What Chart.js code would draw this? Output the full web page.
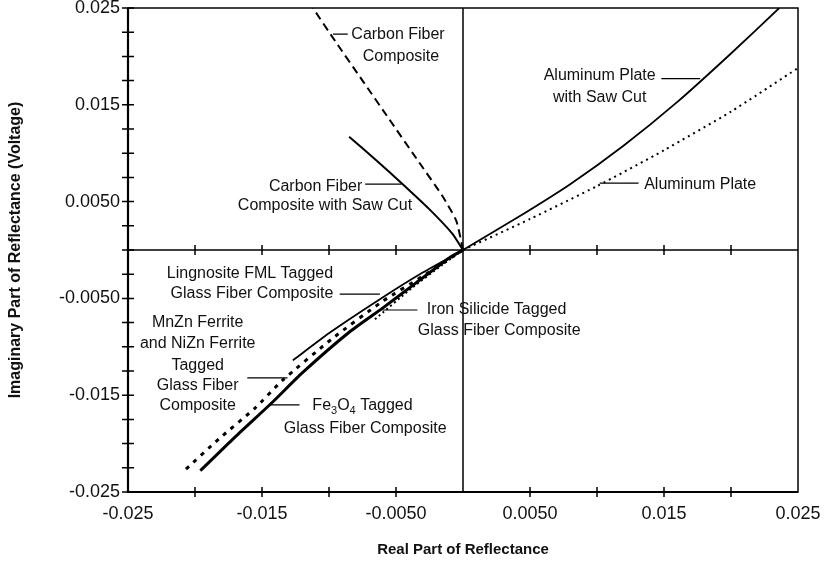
<!DOCTYPE html>
<html>
<head>
<meta charset="utf-8">
<script src="https://cdn.jsdelivr.net/npm/chart.js@4"></script>
<style>
  html, body { margin: 0; padding: 0; background: #fff; }
  #wrap { width: 833px; height: 569px; }
</style>
</head>
<body>
<div id="wrap"><canvas id="reflChart" width="833" height="569"></canvas></div>
<script>
// tick labels
const xLabelValues = [-0.025, -0.015, -0.005, 0.005, 0.015, 0.025]
const xLabelText = ['-0.025', '-0.015', '-0.0050', '0.0050', '0.015', '0.025']
const yLabelValues = [0.025, 0.015, 0.005, -0.005, -0.015, -0.025]
const yLabelText = ['0.025', '0.015', '0.0050', '-0.0050', '-0.015', '-0.025']

// series (real part, imaginary part)
const carbonX = [0, -0.0005, -0.0015, -0.0035, -0.0055, -0.0075, -0.0095, -0.0112]
const carbonY = [0, 0.0030, 0.0055, 0.0095, 0.0135, 0.0175, 0.0215, 0.0250]
const carbonSawX = [0, -0.0008, -0.0025, -0.0045, -0.0065, -0.0085]
const carbonSawY = [0, 0.0017, 0.0042, 0.0068, 0.0093, 0.0117]
const alSawX = [0, 0.0040, 0.0080, 0.0120, 0.0160, 0.0200, 0.0236]
const alSawY = [0, 0.0033, 0.0068, 0.0108, 0.0153, 0.0203, 0.0250]
const alX = [0, 0.0050, 0.0100, 0.0150, 0.0200, 0.0250]
const alY = [0, 0.0032, 0.0066, 0.0103, 0.0143, 0.0188]
const fe3o4X = [0, -0.0010, -0.0036, -0.0060, -0.0085, -0.0120, -0.0142, -0.0170, -0.0196]
const fe3o4Y = [0, -0.0008, -0.0035, -0.0060, -0.0085, -0.0127, -0.0157, -0.0193, -0.0228]
const ferriteX = [0, -0.0030, -0.0060, -0.0098, -0.0135, -0.0155, -0.0182, -0.0208]
const ferriteY = [0, -0.0027, -0.0053, -0.0092, -0.0135, -0.0163, -0.0195, -0.0228]
const lingX = [0, -0.0031, -0.0060, -0.0098, -0.0127]
const lingY = [0, -0.0024, -0.0049, -0.0084, -0.0114]
const ironX = [0, -0.0016, -0.0038, -0.0066]
const ironY = [0, -0.0016, -0.0039, -0.0072]

const pts = (xs, ys) => xs.map((x, i) => ({ x: x, y: ys[i] }))

const labelFor = (values, texts, v) => {
  const i = values.findIndex((t) => Math.abs(t - v) < 1e-9)
  return i < 0 ? '' : texts[i]
}

// callout texts, placed in data units; "_" marks a one-char subscript
const notes = [
  { text: 'Carbon Fiber', x: -0.00485, y: 0.0223 },
  { text: 'Composite', x: -0.00463, y: 0.0200 },
  { text: 'Carbon Fiber', x: -0.0110, y: 0.0066 },
  { text: 'Composite with Saw Cut', x: -0.0103, y: 0.00455 },
  { text: 'Aluminum Plate', x: 0.0102, y: 0.0180 },
  { text: 'with Saw Cut', x: 0.0102, y: 0.0157 },
  { text: 'Aluminum Plate', x: 0.0177, y: 0.0068 },
  { text: 'Lingnosite FML Tagged', x: -0.0159, y: -0.0024 },
  { text: 'Glass Fiber Composite', x: -0.01575, y: -0.00455 },
  { text: 'Iron Silicide Tagged', x: 0.0025, y: -0.0062 },
  { text: 'Glass Fiber Composite', x: 0.0027, y: -0.0083 },
  { text: 'MnZn Ferrite', x: -0.0198, y: -0.0075 },
  { text: 'and NiZn Ferrite', x: -0.0198, y: -0.0097 },
  { text: 'Tagged', x: -0.0198, y: -0.0119 },
  { text: 'Glass Fiber', x: -0.0198, y: -0.0140 },
  { text: 'Composite', x: -0.0198, y: -0.0161 },
  { text: 'Fe_3O_4 Tagged', x: -0.0075, y: -0.0161 },
  { text: 'Glass Fiber Composite', x: -0.0073, y: -0.0184 },
]
// leader lines: x1, x2, y
const leaders = [
  [-0.0097, -0.0086, 0.0223],
  [-0.0073, -0.0046, 0.0068],
  [0.0148, 0.0177, 0.0177],
  [0.0102, 0.0131, 0.0069],
  [-0.0092, -0.0062, -0.00455],
  [-0.0060, -0.0034, -0.0062],
  [-0.0161, -0.0131, -0.0132],
  [-0.0144, -0.0122, -0.0160],
]

const FONT = "'Liberation Sans', Arial, sans-serif"

const drawRich = (ctx, str, cx, cy, size) => {
  const parts = []
  let i = 0
  while (i < str.length) {
    if (str[i] === '_') {
      parts.push({ t: str[i + 1], sub: true })
      i += 2
    } else {
      let j = i
      while (j < str.length && str[j] !== '_') j++
      parts.push({ t: str.slice(i, j), sub: false })
      i = j
    }
  }
  const subSize = Math.round(size * 0.7)
  let total = 0
  parts.forEach((p) => {
    ctx.font = (p.sub ? subSize : size) + 'px ' + FONT
    p.w = ctx.measureText(p.t).width
    total += p.w
  })
  let x = cx - total / 2
  ctx.textAlign = 'left'
  ctx.textBaseline = 'middle'
  parts.forEach((p) => {
    ctx.font = (p.sub ? subSize : size) + 'px ' + FONT
    ctx.fillText(p.t, x, p.sub ? cy + size * 0.3 : cy)
    x += p.w
  })
}

const framePlugin = {
  id: 'frame',
  beforeDatasetsDraw(chart) {
    const { ctx, chartArea: a, scales } = chart
    const x0 = scales.x.getPixelForValue(0)
    const y0 = scales.y.getPixelForValue(0)
    ctx.save()
    ctx.strokeStyle = '#000'
    ctx.lineWidth = 1.5
    ctx.strokeRect(a.left, a.top, a.right - a.left, a.bottom - a.top)
    ctx.lineWidth = 2.2
    ctx.beginPath()
    ctx.moveTo(a.left, a.top)
    ctx.lineTo(a.left, a.bottom)
    ctx.lineTo(a.right, a.bottom)
    ctx.stroke()
    ctx.lineWidth = 1.5
    ctx.beginPath()
    ctx.moveTo(a.left, y0)
    ctx.lineTo(a.right, y0)
    ctx.moveTo(x0, a.top)
    ctx.lineTo(x0, a.bottom)
    ctx.stroke()
    ctx.restore()
  },
  afterDraw(chart) {
    const { ctx, chartArea: a, scales } = chart
    const y0 = scales.y.getPixelForValue(0)
    ctx.save()
    ctx.strokeStyle = '#000'
    ctx.lineWidth = 1.5
    ctx.beginPath()
    scales.y.ticks.forEach((t) => {
      const py = scales.y.getPixelForValue(t.value)
      ctx.moveTo(a.left - 6, py)
      ctx.lineTo(a.left + 6, py)
    })
    scales.x.ticks.forEach((t) => {
      const px = scales.x.getPixelForValue(t.value)
      if (t.value <= -0.025 || t.value >= 0.025 || Math.abs(t.value) < 1e-9) return
      ctx.moveTo(px, a.bottom - 5)
      ctx.lineTo(px, a.bottom + 5)
      ctx.moveTo(px, y0 - 5)
      ctx.lineTo(px, y0 + 5)
    })
    ctx.stroke()

    ctx.fillStyle = '#111'
    notes.forEach((n) => {
      drawRich(ctx, n.text, scales.x.getPixelForValue(n.x), scales.y.getPixelForValue(n.y), 16)
    })
    ctx.lineWidth = 1.2
    ctx.beginPath()
    leaders.forEach((l) => {
      const py = scales.y.getPixelForValue(l[2])
      ctx.moveTo(scales.x.getPixelForValue(l[0]), py)
      ctx.lineTo(scales.x.getPixelForValue(l[1]), py)
    })
    ctx.stroke()
    ctx.restore()
  },
}

const line = (label, xs, ys, width, dash) => ({
  label: label,
  data: pts(xs, ys),
  showLine: true,
  borderColor: '#000',
  borderWidth: width,
  borderDash: dash,
  pointRadius: 0,
  fill: false,
  tension: 0.2,
})

const ctx = document.getElementById('reflChart').getContext('2d')
new Chart(ctx, {
  type: 'scatter',
  data: {
    datasets: [
      line('Carbon Fiber Composite', carbonX, carbonY, 2, [8, 5]),
      line('Carbon Fiber Composite with Saw Cut', carbonSawX, carbonSawY, 2, []),
      line('Aluminum Plate with Saw Cut', alSawX, alSawY, 1.8, []),
      line('Aluminum Plate', alX, alY, 2, [2, 4]),
      line('Fe3O4 Tagged Glass Fiber Composite', fe3o4X, fe3o4Y, 3, []),
      line('MnZn Ferrite and NiZn Ferrite Tagged Glass Fiber Composite', ferriteX, ferriteY, 3, [4, 6]),
      line('Lingnosite FML Tagged Glass Fiber Composite', lingX, lingY, 1.8, []),
      line('Iron Silicide Tagged Glass Fiber Composite', ironX, ironY, 2, [2, 3]),
    ],
  },
  options: {
    responsive: false,
    animation: false,
    layout: { padding: { top: 8, right: 35, left: 0, bottom: 0 } },
    plugins: {
      legend: { display: false },
      tooltip: { enabled: false },
    },
    scales: {
      x: {
        type: 'linear',
        min: -0.025,
        max: 0.025,
        afterFit: (scale) => {
          scale.height = 77
          scale.paddingLeft = 0
          scale.paddingRight = 0
        },
        grid: { display: false, drawTicks: false },
        border: { display: false },
        ticks: {
          stepSize: 0.005,
          autoSkip: false,
          maxRotation: 0,
          padding: 11,
          color: '#111',
          font: { size: 18, family: FONT },
          callback: (v) => labelFor(xLabelValues, xLabelText, v),
        },
        title: {
          display: true,
          text: 'Real Part of Reflectance',
          color: '#111',
          font: { size: 15, weight: 'bold', family: FONT },
          padding: { top: 0, bottom: 10 },
        },
      },
      y: {
        type: 'linear',
        min: -0.025,
        max: 0.025,
        afterFit: (scale) => {
          scale.width = 128
          scale.paddingTop = 0
          scale.paddingBottom = 0
        },
        grid: { display: false, drawTicks: false },
        border: { display: false },
        ticks: {
          stepSize: 0.0025,
          autoSkip: false,
          padding: 8,
          color: '#111',
          font: { size: 18, family: FONT },
          callback: (v) => labelFor(yLabelValues, yLabelText, v),
        },
        title: {
          display: true,
          text: 'Imaginary Part of Reflectance (Voltage)',
          color: '#111',
          font: { size: 16, weight: 'bold', family: FONT },
          padding: { top: 6, bottom: 0 },
        },
      },
    },
  },
  plugins: [framePlugin],
})
</script>
</body>
</html>
